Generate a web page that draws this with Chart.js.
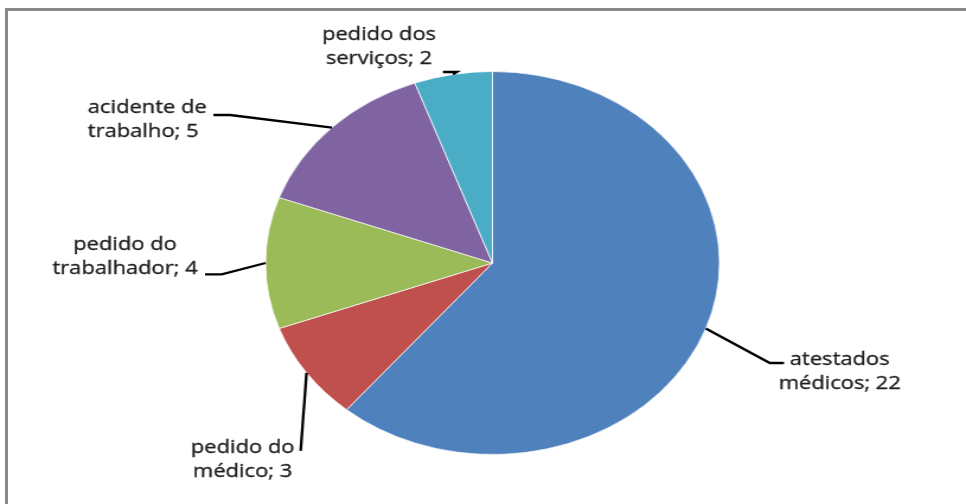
<!DOCTYPE html>
<html>
<head>
<meta charset="utf-8">
<script src="https://cdn.jsdelivr.net/npm/chart.js@4"></script>
<style>
    html, body { margin: 0; padding: 0; background: #fff; overflow: hidden; }
    #quadro { position: absolute; left: 0; top: 0; width: 966px; height: 504px; overflow: hidden; }
    #grafico { position: absolute; left: 0; top: 0; transform: scaleX(1.18528); transform-origin: 0 0; }
    #moldura { position: absolute; left: 5px; top: 8px; width: 1000px; height: 600px; border: 3px solid #8a8a8a; pointer-events: none; }
</style>
</head>
<body>
<div id="quadro">
    <canvas id="grafico" width="815" height="504"></canvas>
    <div id="moldura"></div>
</div>
<script>
const categorias = ["atestados médicos", "pedido do médico", "pedido do trabalhador", "acidente de trabalho", "pedido dos serviços"];
const valores = [22, 3, 4, 5, 2];
const cores = ["#4f81bd", "#c0504d", "#9bbb59", "#8064a2", "#4bacc6"];

// deslocamentos das linhas de chamada e do texto, a partir do ponto médio do arco
const chamadas = [
    { cotovelo: [54, 34.5], fim: [66, 34.5], texto: [113, 36.5], alinhar: "center" },
    { cotovelo: null, fim: [-5, 78], texto: [-54, 80], alinhar: "center" },
    { cotovelo: [-37, 11.3], fim: [-51, 11.3], texto: [-118.5, -13], alinhar: "center" },
    { cotovelo: [-86, -12.6], fim: [-100, -12.6], texto: [-206, -14.6], alinhar: "left" },
    { cotovelo: [3.3, -2.4], fim: [-8.6, -2.4], texto: [-62.5, -34.4], alinhar: "center" }
];

const rotulos = {
    id: "rotulos",
    afterDatasetsDraw(chart) {
        const ctx = chart.ctx;
        const arcos = chart.getDatasetMeta(0).data;
        ctx.save();
        ctx.strokeStyle = "#000";
        ctx.lineWidth = 2.3;
        ctx.fillStyle = "#1e1e1e";
        ctx.font = "18.5px 'Open Sans'";
        ctx.textBaseline = "alphabetic";
        arcos.forEach((arco, i) => {
            const p = arco.getProps(["x", "y", "startAngle", "endAngle", "outerRadius"], true);
            const meio = (p.startAngle + p.endAngle) / 2;
            const ax = p.x + Math.cos(meio) * p.outerRadius;
            const ay = p.y + Math.sin(meio) * p.outerRadius;
            const c = chamadas[i];
            ctx.beginPath();
            ctx.moveTo(ax, ay);
            if (c.cotovelo) ctx.lineTo(ax + c.cotovelo[0], ay + c.cotovelo[1]);
            ctx.lineTo(ax + c.fim[0], ay + c.fim[1]);
            ctx.stroke();
            const nome = categorias[i];
            const corte = nome.lastIndexOf(" ");
            const linhas = [nome.slice(0, corte), nome.slice(corte + 1) + "; " + valores[i]];
            ctx.textAlign = c.alinhar;
            linhas.forEach((linha, j) => {
                // leve contorno para engrossar o traço, como no original
                ctx.lineWidth = 0.35;
                ctx.strokeStyle = "#1e1e1e";
                ctx.strokeText(linha, ax + c.texto[0], ay + c.texto[1] + j * 24);
                ctx.fillText(linha, ax + c.texto[0], ay + c.texto[1] + j * 24);
            });
            ctx.lineWidth = 2.3;
            ctx.strokeStyle = "#000";
        });
        ctx.restore();
    }
};

new Chart(document.getElementById("grafico"), {
    type: "pie",
    data: {
        labels: categorias,
        datasets: [{
            data: valores,
            backgroundColor: cores,
            borderColor: "rgba(255,255,255,0.7)",
            borderWidth: 1
        }]
    },
    options: {
        responsive: false,
        animation: false,
        layout: { padding: { top: 71, bottom: 49, left: 223.5, right: 207.5 } },
        plugins: {
            legend: { display: false },
            tooltip: { enabled: false }
        }
    },
    plugins: [rotulos]
});
</script>
</body>
</html>
